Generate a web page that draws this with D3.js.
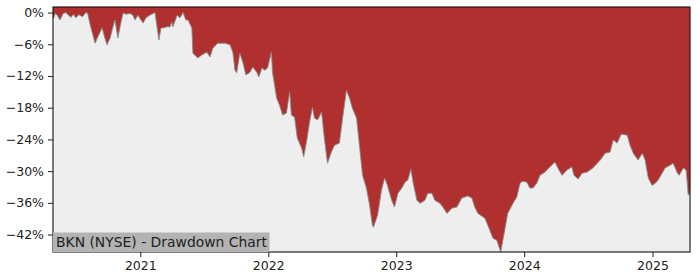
<!DOCTYPE html>
<html>
<head>
<meta charset="utf-8">
<script src="https://cdn.jsdelivr.net/npm/d3@7"></script>
<style>
  body { margin: 0; background: #fff; }
  svg { display: block; font-family: "DejaVu Sans", sans-serif; }
</style>
</head>
<body>
<svg id="chart"></svg>
<script>
const title = "BKN (NYSE) - Drawdown Chart";

const dates = [
  "2020-04-27","2020-05-04","2020-05-10","2020-05-17","2020-05-26","2020-06-03","2020-06-10","2020-06-18",
  "2020-06-24","2020-07-01","2020-07-10","2020-07-20","2020-07-30","2020-08-04","2020-08-11","2020-08-25",
  "2020-09-02","2020-09-14","2020-09-22","2020-09-28","2020-10-07","2020-10-15","2020-10-21","2020-10-29",
  "2020-11-07","2020-11-13","2020-11-21","2020-12-03","2020-12-11","2020-12-17","2020-12-25","2021-01-09",
  "2021-01-17","2021-01-28","2021-02-12","2021-02-23","2021-03-01","2021-03-07","2021-03-18","2021-03-27",
  "2021-04-01","2021-04-04","2021-04-16","2021-04-24","2021-05-03","2021-05-11","2021-05-17","2021-05-28",
  "2021-05-31","2021-06-14","2021-06-26","2021-07-10","2021-07-19","2021-07-27","2021-08-10","2021-08-30",
  "2021-09-14","2021-09-22","2021-09-28","2021-10-03","2021-10-12","2021-10-21","2021-10-29","2021-11-10",
  "2021-11-18","2021-11-30","2021-12-05","2021-12-14","2021-12-22","2021-12-30","2022-01-10","2022-01-13",
  "2022-01-25","2022-02-02","2022-02-11","2022-02-22","2022-03-03","2022-03-08","2022-03-17","2022-03-25",
  "2022-04-06","2022-04-12","2022-04-20","2022-04-29","2022-05-07","2022-05-13","2022-05-22","2022-06-02",
  "2022-06-10","2022-06-19","2022-06-30","2022-07-09","2022-07-23","2022-08-01","2022-08-12","2022-08-21",
  "2022-08-29","2022-09-10","2022-09-18","2022-09-27","2022-10-08","2022-10-17","2022-10-25","2022-10-28",
  "2022-11-09","2022-11-20","2022-11-29","2022-12-07","2022-12-19","2022-12-27","2023-01-06","2023-01-17",
  "2023-01-26","2023-02-03","2023-02-12","2023-02-18","2023-03-01","2023-03-10","2023-03-24","2023-04-01",
  "2023-04-13","2023-04-21","2023-05-06","2023-05-14","2023-05-26","2023-06-09","2023-06-23","2023-07-07",
  "2023-07-24","2023-08-05","2023-08-13","2023-08-22","2023-09-11","2023-09-25","2023-10-04","2023-10-15",
  "2023-10-26","2023-11-04","2023-11-15","2023-11-30","2023-12-11","2023-12-20","2023-12-28","2024-01-09",
  "2024-01-17","2024-01-26","2024-02-06","2024-02-15","2024-02-29","2024-03-14","2024-03-29","2024-04-06",
  "2024-04-18","2024-05-02","2024-05-16","2024-05-22","2024-06-03","2024-06-14","2024-06-28","2024-07-15",
  "2024-08-05","2024-08-19","2024-09-02","2024-09-11","2024-09-22","2024-10-04","2024-10-21","2024-10-29",
  "2024-11-07","2024-11-21","2024-12-03","2024-12-11","2024-12-20","2024-12-31","2025-01-09","2025-01-17",
  "2025-02-06","2025-02-20","2025-03-01","2025-03-12","2025-03-18","2025-03-30","2025-04-07","2025-04-13",
  "2025-04-18"
];

const drawdown = [
  -1.2,-0.2,-0.6,-1.4,-0.2,0,-0.5,-0.9,
  -0.3,-1.0,-0.4,-0.8,0,-0.2,-2.3,-5.8,
  -4.6,-2.9,-4.8,-6.1,-4.8,-2.7,-1.4,-4.8,
  -1.8,-0.1,-0.3,-0.2,-0.5,-1.4,-0.5,-2.0,
  -1.0,-0.5,0,-5.2,-2.9,-2.9,-2.7,-2.7,
  -1.8,-2.7,-0.5,-1.0,0,-1.4,-1.4,-2.9,
  -7.7,-8.6,-8.0,-7.5,-8.4,-6.7,-5.8,-5.8,
  -6.1,-7.5,-10.9,-11.4,-7.7,-9.5,-11.8,-11.3,
  -10.3,-11.4,-12.2,-10.5,-10.9,-10.5,-7.5,-11.3,
  -16.2,-17.5,-19.4,-19.0,-15.0,-19.4,-19.8,-23.8,
  -25.6,-27.3,-24.5,-20.7,-17.9,-20.0,-20.3,-18.8,
  -23.8,-28.5,-26.4,-25.1,-24.7,-20.0,-14.7,-16.2,
  -18.1,-20.0,-25.1,-30.8,-33.2,-36.4,-40.2,-40.6,
  -38.3,-33.6,-31.3,-32.7,-35.5,-36.8,-34.2,-33.2,
  -32.1,-31.7,-29.6,-32.1,-35.5,-36.1,-35.5,-34.2,
  -34.2,-35.5,-36.1,-36.8,-38.0,-37.0,-36.8,-35.1,
  -34.7,-35.1,-36.8,-38.0,-38.9,-41.2,-42.7,-43.1,
  -45.3,-42.1,-38.0,-36.1,-34.9,-32.3,-31.9,-32.1,
  -33.2,-33.2,-32.3,-30.8,-30.2,-29.2,-28.3,-29.4,
  -30.8,-29.8,-29.2,-30.8,-31.5,-30.4,-30.2,-29.4,
  -27.9,-26.6,-26.4,-24.1,-24.7,-23.0,-23.2,-25.1,
  -26.6,-27.9,-26.6,-27.9,-31.3,-32.7,-32.3,-31.7,
  -29.4,-28.9,-28.5,-30.2,-30.8,-29.4,-29.8,-34.5,
  -34.2
];

const yTicks = [0, -6, -12, -18, -24, -30, -36, -42];
const xTicks = ["2021-01-01", "2022-01-01", "2023-01-01", "2024-01-01", "2025-01-01"];

const parseDate = d3.timeParse("%Y-%m-%d");

function drawChart() {
  const W = 700, H = 280;
  const margin = {top: 7, right: 10, bottom: 28, left: 53},
    width  = W - margin.left - margin.right,
    height = H - margin.top - margin.bottom;

  const svg = d3.select("#chart").attr("width", W).attr("height", H);

  const data = dates.map((d, i) => ({date: parseDate(d), value: drawdown[i]}));

  const x = d3.scaleTime()
    .domain(d3.extent(data, d => d.date))
    .range([0, width]);
  const y = d3.scaleLinear()
    .domain([d3.min(drawdown), 1.05])
    .range([height, 0]);

  const g = svg.append("g")
    .attr("transform", `translate(${margin.left},${margin.top})`);

  // red above the curve, grey below it
  g.append("rect")
    .attr("width", width).attr("height", height)
    .attr("fill", "#b03030");

  const area = d3.area()
    .x(d => x(d.date))
    .y0(height)
    .y1(d => y(d.value));

  const line = d3.line()
    .x(d => x(d.date))
    .y(d => y(d.value));

  g.append("path").datum(data)
    .attr("fill", "#eeeeee")
    .attr("d", area);

  g.append("path").datum(data)
    .attr("fill", "none")
    .attr("stroke", "#8a8a8a")
    .attr("stroke-width", 0.9)
    .attr("d", line);

  // axes
  const fmtPct = v => v === 0 ? "0%" : "\u2212" + Math.abs(v) + "%";

  const yAxis = g.append("g")
    .call(d3.axisLeft(y).tickValues(yTicks).tickFormat(fmtPct).tickSize(5).tickPadding(4));
  const xAxis = g.append("g")
    .attr("transform", `translate(0,${height})`)
    .call(d3.axisBottom(x).tickValues(xTicks.map(parseDate)).tickFormat(d3.timeFormat("%Y")).tickSize(5).tickPadding(4));

  [yAxis, xAxis].forEach(a => {
    a.select(".domain").remove();
    a.selectAll("text").attr("font-size", 12.5).attr("fill", "#222").attr("font-family", "DejaVu Sans");
    a.selectAll("line").attr("stroke", "#222");
  });

  // frame
  g.append("rect")
    .attr("width", width).attr("height", height)
    .attr("fill", "none")
    .attr("stroke", "#111")
    .attr("stroke-width", 1.1);

  // title label
  const lbl = g.append("g").attr("transform", `translate(0,${height})`);
  const txt = lbl.append("text")
    .attr("x", 3).attr("y", -5)
    .attr("font-size", 13.9)
    .attr("fill", "#222")
    .text(title);
  const bb = txt.node().getBBox();
  lbl.insert("rect", "text")
    .attr("x", 0).attr("y", -19.5)
    .attr("width", bb.width + 5).attr("height", 19.5)
    .attr("fill", "#b3b3b3");
}

drawChart();
</script>
</body>
</html>
